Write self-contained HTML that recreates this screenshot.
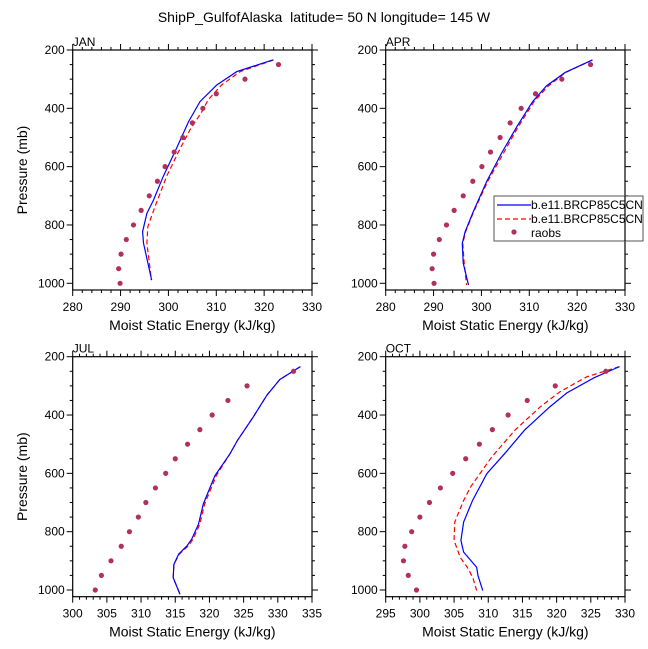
<!DOCTYPE html>
<html><head><meta charset="utf-8"><style>
body{margin:0;background:#fff}
svg{display:block;font-family:"Liberation Sans",sans-serif}
</style></head><body>
<svg id="c" width="648" height="649" viewBox="0 0 648 649">
<text x="324" y="22" text-anchor="middle" font-size="14" style="white-space:pre">ShipP_GulfofAlaska  latitude= 50 N longitude= 145 W</text>
</svg>
<script>
// ---- data ----
const raobsP = [250,300,350,400,450,500,550,600,650,700,750,800,850,900,950,1000];
const janRaobs = [323,316,310,307.2,305,303,301.2,299.3,297.7,296,294.3,292.7,291.2,290.1,289.6,289.9];
const aprRaobs = [322.8,316.8,311.3,308.3,306,303.9,301.9,300.1,298.2,296.2,294.3,292.7,291.2,290,289.7,290.1];
const julRaobs = [332.3,325.5,322.7,320.4,318.6,316.8,315,313.6,312.1,310.7,309.6,308.3,307.1,305.6,304.2,303.3];
const octRaobs = [327.2,319.8,315.7,312.9,310.6,308.7,306.7,304.8,303,301.4,300,298.8,297.8,297.6,298.3,299.5];

const janBlueP = [234,274,320,377,446,537,634,714,760,823,863,989];
const janBlue  = [321.8,314.3,310.1,306.6,304.2,301.7,298.9,296.9,295.5,294.6,294.8,296.5];
const janRedP  = [234,274,320,371,411,474,549,634,737,806,863,954,989];
const janRed   = [322,315,311.1,308.3,307,304.5,302.1,299.6,297.2,295.7,295.5,296.2,296.4];

const aprBlueP = [234,277,323,377,463,554,651,754,823,863,931,1006];
const aprBlue  = [323.2,317.5,313.6,310.7,307.4,304.2,301.1,298.3,296.6,296,296.2,297.3];
const aprRedP  = [234,277,323,377,463,554,651,754,823,863,931,1006];
const aprRed   = [323.2,317.6,314,311,307.7,304.6,301.3,298.4,296.7,296.1,296.4,296.9];

const julBlueP = [234,278,332,407,487,533,608,705,774,826,849,877,912,958,1015];
const julBlue  = [333.3,330.3,328.4,326.4,324.1,323,320.8,319.1,318.4,317.4,316.7,315.5,314.8,314.7,315.7];
const julRedP  = [234,278,332,407,487,533,608,705,774,826,849,877,912,958,1015];
const julRed   = [333.3,330.3,328.4,326.4,324.1,323,321.0,319.3,318.6,317.6,316.9,315.6,314.8,314.7,315.7];

const octBlueP = [234,272,324,372,452,527,601,693,767,830,870,922,951,1002];
const octBlue  = [329.2,325.5,321.5,319,315.3,312.6,309.8,307.7,306.4,306,306.4,308.3,308.5,309.2];
const octRedP  = [234,269,320,372,452,544,647,693,767,830,888,928,962,1002];
const octRed   = [329.2,324.4,320.5,317.6,313.9,310.5,307.4,306.4,305.1,305,305.9,307.1,307.8,308.3];

const janTicks = [280,290,300,310,320,330];
const aprTicks = [280,290,300,310,320,330];
const julTicks = [300,305,310,315,320,325,330,335];
const octTicks = [295,300,305,310,315,320,325,330];
const pTicks = [200,400,600,800,1000];

const svg = document.getElementById('c');
const NS = 'http://www.w3.org/2000/svg';
function mk(tag, attrs, parent){const e=document.createElementNS(NS,tag);for(const k in attrs)e.setAttribute(k,attrs[k]);(parent||svg).appendChild(e);return e;}

function panel(name, L, T, xmin, xmax, xTicks, minorStep, raobs, bP, bV, rP, rV, showY){
  const W=239.3, H=240, P0=200, P1=1023;
  const g=mk('g',{});
  
  
  const xs=v=>L+(v-xmin)/(xmax-xmin)*W;
  const ys=p=>T+(p-P0)/(P1-P0)*H;
  for(let v=xmin; v<=xmax+1e-9; v+=minorStep){
    const major = xTicks.some(t=>Math.abs(t-v)<1e-6);
    const len = major?6:3;
    mk('line',{x1:xs(v),x2:xs(v),y1:T+H,y2:T+H+len,stroke:'#000','stroke-width':1},g);
    mk('line',{x1:xs(v),x2:xs(v),y1:T,y2:T-len,stroke:'#000','stroke-width':1},g);
  }
  for(let p=200;p<=1000;p+=50){
    const major = p%200===0;
    const len = major?6:3;
    mk('line',{x1:L,x2:L-len,y1:ys(p),y2:ys(p),stroke:'#000','stroke-width':1},g);
    mk('line',{x1:L+W,x2:L+W+len,y1:ys(p),y2:ys(p),stroke:'#000','stroke-width':1},g);
  }
  xTicks.forEach(t=>{
    const tx=mk('text',{x:xs(t),y:T+H+21,'text-anchor':'middle','font-size':12},g);
    
    
    tx.textContent=t;
  });
  pTicks.forEach(t=>{
    const tx=mk('text',{x:L-8,y:ys(t)+4,'text-anchor':'end','font-size':12},g);
    
    
    tx.textContent=t;
  });
  const xt=mk('text',{x:L+W/2,y:T+H+40,'text-anchor':'middle','font-size':14},g);
  
  
  xt.textContent='Moist Static Energy (kJ/kg)';
  if(showY){
    const yt=mk('text',{x:0,y:0,'text-anchor':'middle','font-size':14,transform:`translate(27,${T+H/2}) rotate(-90)`},g);
    
    
    yt.textContent='Pressure (mb)';
  }
  const lab=mk('text',{x:L,y:T-4,'font-size':12},g);
  
  
  lab.textContent=name.toUpperCase();
  const rl=mk('polyline',{points:rP.map((p,i)=>xs(rV[i])+','+ys(p)).join(' '),fill:'none',stroke:'#ff0000','stroke-width':1.2,'stroke-dasharray':'5,3'},g);
  
  
  const bl=mk('polyline',{points:bP.map((p,i)=>xs(bV[i])+','+ys(p)).join(' '),fill:'none',stroke:'#0000ff','stroke-width':1.2},g);
  
  
  raobsP.forEach((p,i)=>{
    const c=mk('circle',{cx:xs(raobs[i]),cy:ys(p),r:2.6,fill:'#b03060'},g);
    
    
  });
  const box=mk('rect',{x:L,y:T,width:W,height:H,fill:'none',stroke:'#000','stroke-width':1.2},g);
  
  
}
panel('jan',72.7,50,280,330,janTicks,2,janRaobs,janBlueP,janBlue,janRedP,janRed,true);
panel('apr',385.7,50,280,330,aprTicks,2,aprRaobs,aprBlueP,aprBlue,aprRedP,aprRed,false);
panel('jul',72.7,356.7,300,335,julTicks,1,julRaobs,julBlueP,julBlue,julRedP,julRed,true);
panel('oct',385.7,356.7,295,330,octTicks,1,octRaobs,octBlueP,octBlue,octRedP,octRed,false);

const lg=mk('g',{});


mk('rect',{x:494,y:196,width:149,height:45,fill:'#fff',stroke:'#555','stroke-width':1},lg);
mk('line',{x1:497,x2:531,y1:205,y2:205,stroke:'#0000ff','stroke-width':1.2},lg);
mk('line',{x1:497,x2:531,y1:219,y2:219,stroke:'#ff0000','stroke-width':1.2,'stroke-dasharray':'5,3'},lg);
mk('circle',{cx:514,cy:232,r:2.6,fill:'#b03060'},lg);
const names=['b.e11.BRCP85C5CN','b.e11.BRCP85C5CN','raobs'];
names.forEach((n,i)=>{
  const t=mk('text',{x:531,y:209+i*14,'font-size':12},lg);
  
  
  t.textContent=n;
});
mk('line',{x1:625,x2:625,y1:196,y2:241,stroke:'#000','stroke-width':1.2},lg);
</script>
</body></html>
